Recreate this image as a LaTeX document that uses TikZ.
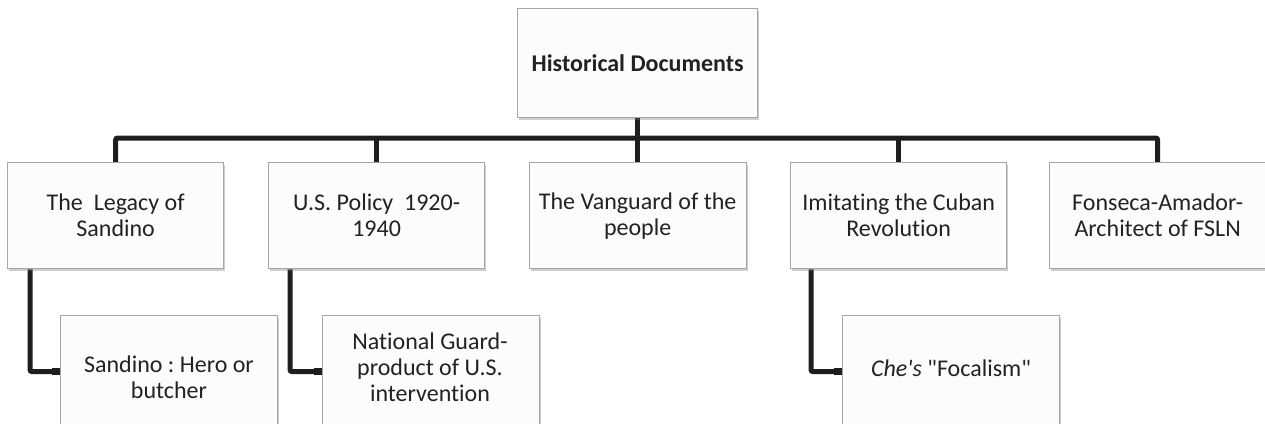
\documentclass[tikz,border=0pt]{standalone}
\usepackage{fontspec}
\setmainfont{Carlito}[Ligatures={NoCommon,NoRare,NoContextual}]
\usetikzlibrary{shadows,arrows.meta}
\pgfdeclarelayer{wires}
\pgfsetlayers{wires,main}
\definecolor{boxline}{HTML}{A6A6A6}
\definecolor{boxfill}{HTML}{FBFCFD}
\definecolor{ink}{HTML}{222222}
\definecolor{wirecol}{HTML}{1E1E1E}
\frenchspacing
\tikzset{
  card/.style={draw=boxline, line width=1.3pt, fill=boxfill,
    drop shadow={shadow xshift=1.5pt, shadow yshift=-2.5pt, opacity=0.35, fill=black!55},
    inner sep=0pt, anchor=north west, text=ink, align=center,
    font=\fontsize{24}{26}\selectfont},
  tier/.style={card, minimum width=216pt, minimum height=106pt},
  leaf/.style={card, minimum width=217pt, minimum height=112pt},
  leaftext/.style={text=ink, align=center, inner sep=0pt,
    font=\fontsize{24}{26}\selectfont},
  wire/.style={draw=wirecol, line width=5pt, rounded corners=2pt},
  tee/.style={wire, -{Rectangle[length=8pt,width=7.5pt]}}
}
\begin{document}
\begin{tikzpicture}[x=1pt,y=-1pt]
\useasboundingbox (0,0) rectangle (1265,423);
\clip (0,0) rectangle (1265,423);

% root
\node[card, minimum width=240pt, minimum height=109pt] (root) at (517,8) {\textbf{Historical Documents}};

% first tier
\node[tier] (v1) at (7,162)    {The\ \ Legacy of\\Sandino};
\node[tier] (v2) at (268,162)  {U.S. Policy\ \ 1920-\\1940};
\node[tier, minimum width=217pt] (v3) at (528.5,162) {The Vanguard of the\\people};
\node[tier] (v4) at (790,162)  {Imitating the Cuban\\Revolution};
\node[tier] (v5) at (1049,162) {Fonseca-Amador-\\Architect of FSLN};

% second tier
\node[leaf] (s1) at (60,315)  {};
\node[leaf] (s2) at (322,315) {};
\node[leaf] (s4) at (842,315) {};
\node[leaftext] (s1t) at (169,377) {Sandino : Hero or\\butcher};
\node[leaftext] (s2t) at (430,367) {National Guard-\\product of U.S.\\intervention};
\node[leaftext] (s4t) at (951,368) {\textit{Che\textquotesingle s} \textquotedbl Focalism\textquotedbl};

% connectors
\begin{pgfonlayer}{wires}
\coordinate (bus) at (637,138);
\draw[wire] (v1.north) |- (bus) -| (v5.north);
\draw[wire] (root.south) -- (root.south |- v3.north);
\draw[wire] (v2.north) -- (v2.north |- bus);
\draw[wire] (v4.north) -- (v4.north |- bus);
\draw[tee] ([xshift=23pt]v1.south west) |- (s1.west);
\draw[tee] ([xshift=22pt]v2.south west) |- (s2.west);
\draw[tee] ([xshift=21pt]v4.south west) |- (s4.west);
\end{pgfonlayer}
\end{tikzpicture}
\end{document}
